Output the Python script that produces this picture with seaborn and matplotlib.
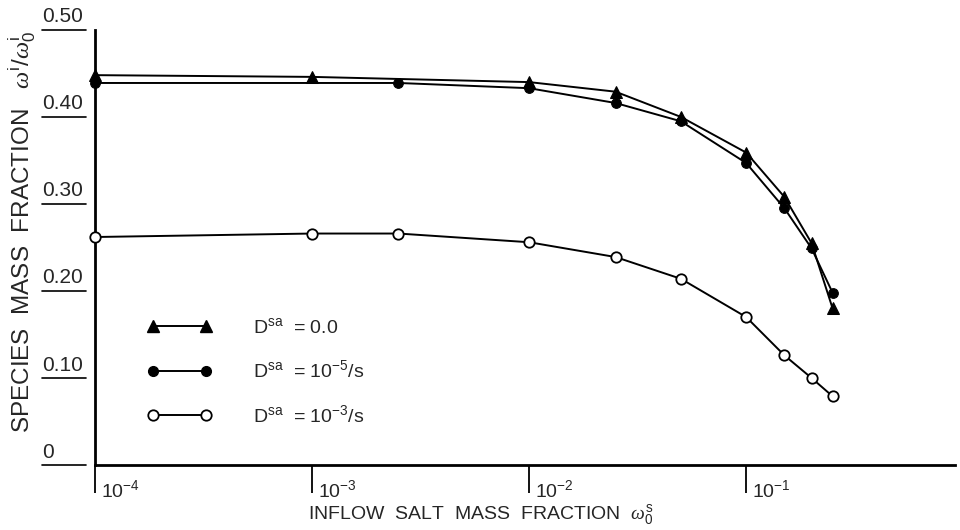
import numpy as np
import pandas as pd
import matplotlib
matplotlib.use('Agg')
import matplotlib.pyplot as plt
import matplotlib.transforms as mtransforms
from matplotlib.lines import Line2D
from matplotlib.legend_handler import HandlerLine2D
import seaborn as sns

### data
x_tri = [1e-4, 1e-3, 1e-2, 0.025, 0.05, 0.1, 0.15, 0.2, 0.25]
y_tri = [0.448, 0.446, 0.440, 0.429, 0.400, 0.359, 0.308, 0.255, 0.180]

x_dot = [1e-4, 2.5e-3, 1e-2, 0.025, 0.05, 0.1, 0.15, 0.2, 0.25]
y_dot = [0.439, 0.439, 0.433, 0.416, 0.395, 0.347, 0.295, 0.249, 0.198]

x_open = [1e-4, 1e-3, 2.5e-3, 1e-2, 0.025, 0.05, 0.1, 0.15, 0.2, 0.25]
y_open = [0.262, 0.266, 0.266, 0.256, 0.239, 0.214, 0.170, 0.126, 0.100, 0.079]

series_labels = ['D$^{\\mathrm{sa}}$  = 0.0',
                 'D$^{\\mathrm{sa}}$  = 10$^{-5}$/s',
                 'D$^{\\mathrm{sa}}$  = 10$^{-3}$/s']

xtick_vals = [1e-4, 1e-3, 1e-2, 1e-1]
xtick_labels = ['$10^{-4}$', '$10^{-3}$', '$10^{-2}$', '$10^{-1}$']
ytick_vals = [0, 0.1, 0.2, 0.3, 0.4, 0.5]
ytick_labels = ['0', '0.10', '0.20', '0.30', '0.40', '0.50']

sns.set_style('ticks')
plt.rcParams['font.family'] = ['Liberation Sans', 'DejaVu Sans']
plt.rcParams['mathtext.fontset'] = 'custom'
plt.rcParams['mathtext.rm'] = 'Liberation Sans'
plt.rcParams['mathtext.it'] = 'Liberation Serif:italic'
plt.rcParams['mathtext.default'] = 'regular'

fig = plt.figure(figsize=(9.6, 5.3), dpi=100)
ax = fig.add_axes([0.099, 0.1226, 0.896, 0.821])

lw = 1.4
sns.lineplot(x=x_tri, y=y_tri, ax=ax, color='black', lw=lw, marker='^',
             markersize=8, markeredgecolor='black', sort=False, estimator=None,
             clip_on=False, zorder=3)
sns.lineplot(x=x_dot, y=y_dot, ax=ax, color='black', lw=lw, marker='o',
             markersize=7, markeredgecolor='black', sort=False, estimator=None,
             clip_on=False, zorder=3)
sns.lineplot(x=x_open, y=y_open, ax=ax, color='black', lw=lw, marker='o',
             markersize=7.5, markerfacecolor='white', markeredgecolor='black',
             markeredgewidth=1.3, sort=False, estimator=None,
             clip_on=False, zorder=3)

ax.set_xscale('log')
ax.set_xlim(1e-4, 0.918)
ax.set_ylim(0, 0.5)
ax.minorticks_off()

for s in ['top', 'right']:
    ax.spines[s].set_visible(False)
for s in ['left', 'bottom']:
    ax.spines[s].set_linewidth(2)
    ax.spines[s].set_color('black')

### x ticks: vertical marks with label on the right
ax.set_xticks(xtick_vals)
ax.set_xticklabels(xtick_labels)
ax.tick_params(axis='x', direction='out', length=20, width=1.3, pad=-10,
               labelsize=14, color='black')
offset = mtransforms.ScaledTranslation(4 / 72, 0, fig.dpi_scale_trans)
for lab in ax.get_xticklabels():
    lab.set_horizontalalignment('left')
    lab.set_transform(lab.get_transform() + offset)

### y ticks: underlined labels left of the axis
ax.set_yticks([])
trans = mtransforms.blended_transform_factory(ax.transAxes, ax.transData)
for v, lab in zip(ytick_vals, ytick_labels):
    ax.text(-0.061, v + 0.004, lab, transform=trans, ha='left', va='bottom',
            fontsize=15)
    ax.plot([-0.062, -0.010], [v, v], transform=trans, color='black',
            lw=1.2, clip_on=False)

ax.set_ylabel('SPECIES  MASS  FRACTION   $\\mathit{\\omega}^{i}/\\mathit{\\omega}^{i}_{0}$',
              fontsize=17.5)
ax.yaxis.set_label_coords(-0.066, 0.535)
ax.set_xlabel('INFLOW  SALT  MASS  FRACTION  $\\mathit{\\omega}^{s}_{0}$', fontsize=14)
ax.xaxis.set_label_coords(0.449, -0.085)

### legend with two markers per line
handles = [
    Line2D([], [], color='black', lw=lw, marker='^', markersize=8),
    Line2D([], [], color='black', lw=lw, marker='o', markersize=7),
    Line2D([], [], color='black', lw=lw, marker='o', markersize=7.5,
           markerfacecolor='white', markeredgewidth=1.3),
]
hmap = {h: HandlerLine2D(numpoints=2, marker_pad=1.0) for h in handles}
leg = ax.legend(handles, series_labels, loc='center left',
                bbox_to_anchor=(0.025, 0.215), frameon=False, fontsize=14,
                handlelength=4.7, handletextpad=1.4, labelspacing=1.15,
                handler_map=hmap)

fig.savefig('out.png', dpi=100, facecolor='white')
